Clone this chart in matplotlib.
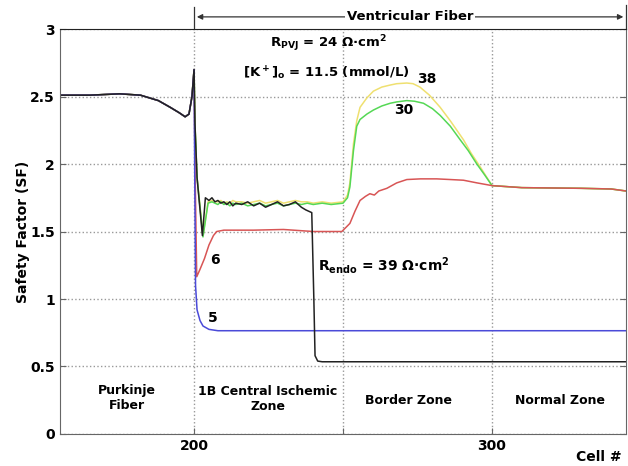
import numpy as np
import matplotlib
matplotlib.use("Agg")
import matplotlib.pyplot as plt

plt.rcParams['font.family'] = 'DejaVu Sans'
plt.rcParams['font.weight'] = 'bold'
plt.rcParams['mathtext.default'] = 'bf'

# shared Purkinje part (cells 155-200)
purk_x = [155, 165, 175, 182, 188, 192, 195, 197, 198.3, 199.3, 200]
purk_y = [2.51, 2.51, 2.52, 2.51, 2.47, 2.42, 2.38, 2.35, 2.37, 2.50, 2.70]

# noisy plateau in ischemic zone (black / green / yellow)
plat_x = [206, 207, 208, 209, 210, 211, 212, 213, 214, 216, 218, 220, 222,
          224, 226, 228, 230, 232, 234, 236]
black_plat = [1.75, 1.72, 1.73, 1.71, 1.72, 1.70, 1.72, 1.69, 1.71, 1.70, 1.72,
              1.69, 1.71, 1.68, 1.70, 1.72, 1.69, 1.70, 1.72, 1.68]
green_plat = [1.72, 1.71, 1.70, 1.72, 1.70, 1.71, 1.69, 1.71, 1.70, 1.71, 1.69,
              1.70, 1.71, 1.69, 1.70, 1.71, 1.69, 1.70, 1.71, 1.70]
yellow_plat = [1.73, 1.72, 1.72, 1.73, 1.71, 1.72, 1.71, 1.73, 1.72, 1.72, 1.71,
               1.72, 1.73, 1.71, 1.72, 1.73, 1.71, 1.72, 1.73, 1.72]

black_x = [200.3, 201, 202.8, 203.8, 205] + plat_x + [237.5, 238.5, 239.5, 240.2, 240.6, 241.5, 243, 345]
black_y = [2.30, 1.90, 1.47, 1.75, 1.73] + black_plat + [1.66, 1.65, 1.64, 1.00, 0.58, 0.54, 0.535, 0.535]

green_x = [200.3, 201, 203, 204.7] + plat_x + [238, 240, 243, 246, 250, 251.5, 252.3, 253.5,
           254.6, 255.7, 258, 260.2, 263, 265.8, 268, 271.4, 274, 277, 280, 282.6,
           286, 289.3, 292, 294.9, 297.5, 300, 310, 330, 340, 345]
green_y = [2.30, 1.90, 1.46, 1.71] + green_plat + [1.71, 1.70, 1.71, 1.70, 1.71, 1.75, 1.83, 2.10,
           2.28, 2.33, 2.37, 2.40, 2.43, 2.45, 2.46, 2.47, 2.465, 2.45, 2.41, 2.36,
           2.28, 2.18, 2.10, 2.00, 1.92, 1.84, 1.825, 1.82, 1.815, 1.80]

yellow_x = [200.3, 201, 203, 204.7] + plat_x + [238, 240, 243, 246, 250, 251.5, 252.3, 253.5,
            254.6, 255.7, 258, 260.2, 263, 265.8, 268, 271.4, 273.5, 275.8, 279, 282.6,
            286, 290.4, 293, 296, 298, 300, 310, 330, 340, 345]
yellow_y = [2.30, 1.90, 1.47, 1.72] + yellow_plat + [1.72, 1.71, 1.72, 1.71, 1.72, 1.77, 1.86, 2.15,
            2.32, 2.42, 2.49, 2.54, 2.57, 2.585, 2.595, 2.60, 2.595, 2.57, 2.51, 2.42,
            2.32, 2.18, 2.08, 1.98, 1.91, 1.84, 1.825, 1.82, 1.815, 1.80]

red_x = [200.3, 200.9, 202, 203.5, 205, 206.5, 207.6, 210, 220, 230, 240, 249.6,
         252.3, 254, 255.7, 257.5, 259, 260.5, 262, 264.7, 268, 271.4, 276, 281.4,
         286, 290.4, 295, 300, 310, 330, 340, 345]
red_y = [2.00, 1.165, 1.22, 1.30, 1.40, 1.47, 1.50, 1.51, 1.51, 1.515, 1.50, 1.50,
         1.56, 1.65, 1.73, 1.76, 1.78, 1.77, 1.80, 1.82, 1.86, 1.885, 1.89, 1.89,
         1.885, 1.88, 1.86, 1.84, 1.825, 1.82, 1.815, 1.80]

blue_x = [200.2, 200.5, 201, 202, 203, 205, 208, 345]
blue_y = [2.00, 1.10, 0.92, 0.84, 0.80, 0.775, 0.765, 0.765]

yticks = [0, 0.5, 1, 1.5, 2, 2.5, 3]
ytick_labels = ['0', '0.5', '1', '1.5', '2', '2.5', '3']
xticks = [200, 250, 300]
xtick_labels = ['200', '', '300']

fig = plt.figure(figsize=(6.28, 4.66), dpi=100)
ax = fig.add_axes([0.0955, 0.0687, 0.9015, 0.869])

series = [
    (yellow_x, yellow_y, '#efe070'),
    (green_x, green_y, '#55d855'),
    (red_x, red_y, '#d85555'),
    (blue_x, blue_y, '#4a4ad8'),
    (black_x, black_y, '#222222'),
]
for sx, sy, c in series:
    ax.plot(purk_x + sx, purk_y + sy, color=c, lw=1.1)

ax.set_xlim(155, 345)
ax.set_ylim(0, 3)
ax.set_yticks(yticks)
ax.set_yticklabels(ytick_labels)
ax.set_xticks(xticks)
ax.set_xticklabels(xtick_labels)
ax.tick_params(direction='in', labelsize=10, length=4, color='#666666')
ax.tick_params(axis='y', right=True)
ax.grid(True, linestyle=':', color='#999999', lw=1)
for s in ['left', 'bottom', 'right']:
    ax.spines[s].set_color('#666666')
ax.spines['top'].set_color('#222222')

ax.set_ylabel('Safety Factor (SF)', fontsize=10, fontweight='bold', labelpad=0)
fig.text(0.99, 0.004, 'Cell #', ha='right', va='bottom', fontsize=10, fontweight='bold')

# annotations
ax.text(225.5, 2.89, r'$R_{PVJ}$ = 24 Ω·cm$^2$', fontsize=9.5, va='center')
ax.text(216.5, 2.67, r'[K$^+$]$_o$ = 11.5 (mmol/L)', fontsize=9.5, va='center')
ax.text(275, 2.63, '38', fontsize=10, va='center')
ax.text(267, 2.40, '30', fontsize=10, va='center')
ax.text(205.5, 1.29, '6', fontsize=10, va='center')
ax.text(204.5, 0.86, '5', fontsize=10, va='center')
ax.text(241.6, 1.25, r'$R_{endo}$ = 39 Ω·cm$^2$', fontsize=10, va='center')

ax.text(177.5, 0.27, 'Purkinje\nFiber', fontsize=9, ha='center', va='center')
ax.text(224.8, 0.26, '1B Central Ischemic\nZone', fontsize=9, ha='center', va='center')
ax.text(272, 0.25, 'Border Zone', fontsize=9, ha='center', va='center')
ax.text(322.8, 0.25, 'Normal Zone', fontsize=9, ha='center', va='center')

# ventricular fiber arrow above the axes
ax.annotate('', xy=(200, 3.09), xytext=(272.5, 3.09), annotation_clip=False,
            arrowprops=dict(arrowstyle='-|>', color='#333333', lw=0.9, mutation_scale=8))
ax.annotate('', xy=(345, 3.09), xytext=(272.5, 3.09), annotation_clip=False,
            arrowprops=dict(arrowstyle='-|>', color='#333333', lw=0.9, mutation_scale=8))
ax.text(272.5, 3.09, 'Ventricular Fiber', fontsize=9.5, ha='center', va='center',
        bbox=dict(facecolor='white', edgecolor='none', pad=1))
ax.plot([200, 200], [3.0, 3.16], color='#333333', lw=0.9, clip_on=False)
ax.plot([345, 345], [3.0, 3.18], color='#333333', lw=0.9, clip_on=False)

fig.savefig('out.png', dpi=100)
